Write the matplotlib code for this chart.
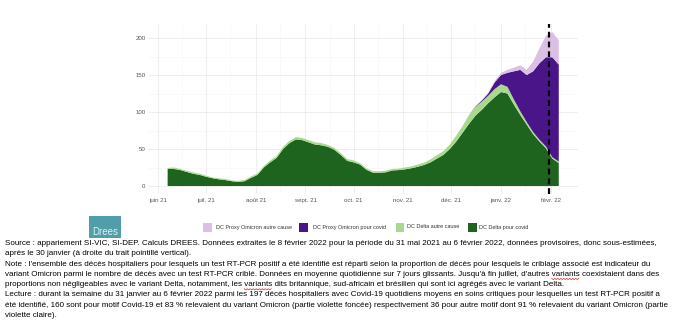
import datetime
import numpy as np
import pandas as pd
import matplotlib
matplotlib.use("Agg")
import matplotlib.pyplot as plt
from matplotlib.patches import Rectangle
from matplotlib.lines import Line2D

# deces hospitaliers en soins critiques, moyenne 7 jours, un point tous les 4 jours
dates = pd.date_range("2021-06-07", "2022-02-06", freq="4D")

delta_covid = [23, 23, 21.5, 19, 16.5, 15, 12.5, 10.5, 9, 8, 6.5, 5.5, 6.5,
               11, 15, 25, 32, 38, 50, 58, 63, 62, 59, 56, 55, 53, 49, 42, 34,
               32, 29, 22, 18, 18, 18.5, 21, 21.5, 22.5, 24, 26, 28.5, 32, 37,
               42, 50, 60, 72, 84, 95, 103, 112, 120, 127, 125, 110, 96, 83,
               70, 60, 51, 37, 31]
delta_autre = [1.5, 2, 1.5, 1.5, 2, 1.5, 1.5, 1, 1.5, 1.5, 1, 1.5, 1.5,
               2, 2, 2, 2.5, 2.5, 3, 3, 3, 3, 3, 3, 3, 2.5, 2.5, 2.5, 2.5, 2.5,
               2, 2, 2, 2, 2,
               2, 2, 2.5, 2.5, 3, 3, 4, 4.5, 5, 6, 8, 9, 12,
               12, 11, 10, 11, 10.5, 9, 7, 5, 3.5, 3, 2.5, 2.5, 2, 2]
omicron_covid = [0] * 48 + [0.5, 1.5, 3, 9, 12.5, 19, 38, 56, 63.5, 82,
                            103.5, 120.5, 135, 131]
omicron_autre = [0] * 48 + [0.3, 0.5, 1, 2, 3, 4, 5, 6, 7, 13, 20, 29, 34, 33]

series_labels = ["DC Proxy Omicron autre cause", "DC Proxy Omicron pour covid",
                 "DC Delta autre cause", "DC Delta pour covid"]
series_colors = ["#dcbfe5", "#4a1589", "#a9d98c", "#1e641f"]

month_ticks = ["juin 21", "juil. 21", "août 21", "sept. 21", "oct. 21",
               "nov. 21", "déc. 21", "janv. 22", "févr. 22"]
y_ticks = [0, 50, 100, 150, 200]

note_lines = [
    "Source : appariement SI-VIC, SI-DEP. Calculs DREES. Données extraites le 8 février 2022 pour la période du 31 mai 2021 au 6 février 2022, données provisoires, donc sous-estimées,",
    "après le 30 janvier (à droite du trait pointillé vertical).",
    "Note : l'ensemble des décès hospitaliers pour lesquels un test RT-PCR positif a été identifié est réparti selon la proportion de décès pour lesquels le criblage associé est indicateur du",
    "variant Omicron parmi le nombre de décès avec un test RT-PCR criblé. Données en moyenne quotidienne sur 7 jours glissants. Jusqu'à fin juillet, d'autres variants coexistaient dans des",
    "proportions non négligeables avec le variant Delta, notamment, les variants dits britannique, sud-africain et brésilien qui sont ici agrégés avec le variant Delta.",
    "Lecture : durant la semaine du 31 janvier au 6 février 2022 parmi les 197 décès hospitaliers avec Covid-19 quotidiens moyens en soins critiques pour lesquelles un test RT-PCR positif a",
    "été identifié, 160 sont pour motif Covid-19 et 83 % relevaient du variant Omicron (partie violette foncée) respectivement 36 pour autre motif dont 91 % relevaient du variant Omicron (partie",
    "violette claire).",
]
# words flagged by the spell checker: (line index, text before the word, word)
flagged = [(3, "variant Omicron parmi le nombre de décès avec un test RT-PCR criblé. Données en moyenne quotidienne sur 7 jours glissants. Jusqu'à fin juillet, d'autres ", "variants"),
           (4, "proportions non négligeables avec le variant Delta, notamment, les ", "variants")]

plt.rcParams["font.family"] = ["Liberation Sans", "DejaVu Sans"]

W, H = 674, 323
fig = plt.figure(figsize=(W / 100, H / 100), dpi=100)
fig.patch.set_facecolor("white")


def fx(px):
    return px / W


def fy(py):
    return 1 - py / H


# panel
left, right, top, bottom = 148.4, 578, 24.4, 193.7
ax = fig.add_axes([fx(left), fy(bottom), (right - left) / W, (bottom - top) / H])
ax.stackplot(dates, delta_covid, delta_autre, omicron_covid, omicron_autre,
             colors=series_colors[::-1], linewidth=0)

ax.set_xlim(datetime.date(2021, 5, 26), datetime.date(2022, 2, 18))
ax.set_ylim(-10.4, 218.4)

month_pos = pd.date_range("2021-06-01", "2022-02-01", freq="MS")
ax.set_xticks(month_pos)
ax.set_xticklabels(month_ticks)
ax.set_xticks(month_pos[:-1] + pd.Timedelta(days=15), minor=True)
ax.set_yticks(y_ticks)
ax.set_yticks([25, 75, 125, 175], minor=True)

ax.grid(True, which="major", color="#ebebeb", linewidth=0.6)
ax.grid(True, which="minor", color="#f5f5f5", linewidth=0.4)
ax.set_axisbelow(True)
for s in ax.spines.values():
    s.set_visible(False)
ax.tick_params(which="both", length=0, labelsize=4.4, labelcolor="#555555")
ax.tick_params(axis="x", pad=3)
ax.tick_params(axis="y", pad=2)

ax.axvline(datetime.date(2022, 1, 31), color="black", linewidth=1.6,
           dashes=(2.6, 1.8), zorder=5)

# legend
sq = 8.5
legend_items = [(203, 216), (299, 313), (395.5, 407), (468, 479)]
for (sx, tx), lab, col in zip(legend_items, series_labels, series_colors):
    fig.patches.append(Rectangle((fx(sx), fy(231.5)), sq / W, sq / H,
                                 transform=fig.transFigure, facecolor=col,
                                 edgecolor="none"))
    fig.text(fx(tx), fy(227), lab, fontsize=4.0, color="#333333", va="center")

# logo
fig.patches.append(Rectangle((fx(89), fy(238)), 32 / W, 22 / H,
                             transform=fig.transFigure, facecolor="#4f9eaa",
                             edgecolor="none"))
fig.text(fx(105), fy(232), "Drees", fontsize=7, color="#dff2f3",
         ha="center", va="center")

# notes under the chart, one text per line
fs = 5.72
line_y0, line_step = 243.5, 10.3
for i, line in enumerate(note_lines):
    fig.text(fx(5), fy(line_y0 + i * line_step), line, fontsize=fs,
             color="black", va="center", ha="left")

renderer = fig.canvas.get_renderer()
for i, before, word in flagged:
    t1 = fig.text(0, 0, before, fontsize=fs)
    t2 = fig.text(0, 0, word, fontsize=fs)
    x0 = 5 + t1.get_window_extent(renderer).width
    w = t2.get_window_extent(renderer).width
    t1.remove()
    t2.remove()
    yb = line_y0 + i * line_step + 4
    n = int(w / 1.5) + 1
    xs = x0 + np.arange(n) * 1.5
    ys = yb + np.where(np.arange(n) % 2 == 0, 0, 1.2)
    fig.add_artist(Line2D(fx(xs), fy(ys), color="#e02020", linewidth=0.5,
                          transform=fig.transFigure))

fig.savefig("out.png", dpi=100)
